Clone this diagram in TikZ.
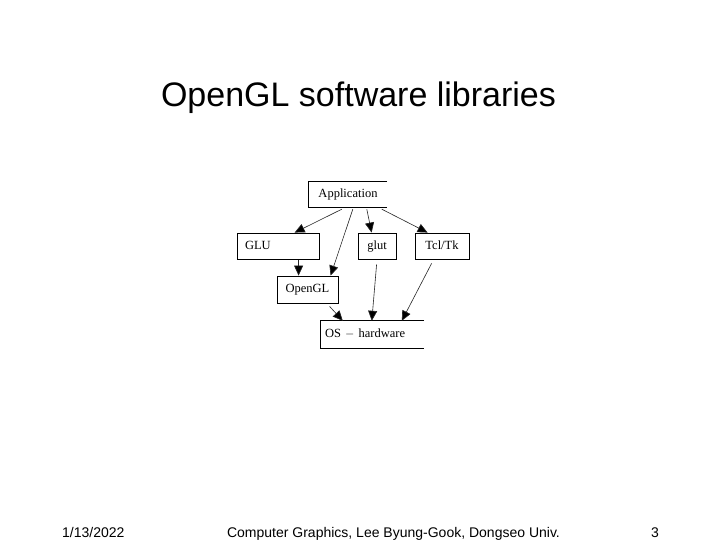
\documentclass[tikz,border=0pt]{standalone}
\usepackage{fontspec}
\setmainfont{Liberation Serif}
\newfontfamily\arialfont{Liberation Sans}
\usetikzlibrary{arrows.meta}
\begin{document}
\begin{tikzpicture}[x=1pt,y=-1pt,
  dfont/.style={font=\fontsize{12.5}{14}\selectfont,text height=9pt,text depth=2.5pt},
  box/.style={draw=black,line width=0.8pt,inner sep=0pt,dfont},
  openbox/.style={draw=none,inner sep=0pt,dfont},
  conn/.style={line width=0.6pt,draw=black!85,-{Triangle[length=10pt,width=9pt,fill=black]}},
  edge/.style={line width=0.8pt}]
\useasboundingbox[fill=white] (0,0) rectangle (720,540);
% title and footer
\node[anchor=base,font=\arialfont\fontsize{34}{40}\selectfont] (title) at (358.5,107) {OpenGL software libraries};
\node[anchor=base west,inner sep=0pt,font=\arialfont\fontsize{14}{16}\selectfont] (date) at (62,537) {1/13/2022};
\node[anchor=base,inner sep=0pt,font=\arialfont\fontsize{14}{16}\selectfont] (footer) at (393.5,537) {Computer Graphics, Lee Byung-Gook, Dongseo Univ.};
\node[anchor=base,inner sep=0pt,font=\arialfont\fontsize{14}{16}\selectfont] (page) at (655,537) {3};
% boxes
\node[openbox,minimum width=78pt,minimum height=25pt] (app) at (348,194.5) {Application};
\draw[edge] (app.north east) -- (app.north west) -- (app.south west) -- (app.south east);
\node[box,minimum width=82pt,minimum height=26pt,text width=66pt,align=left] (glu) at (278,246) {GLU};
\node[box,minimum width=38pt,minimum height=26pt] (glut) at (377,246) {glut};
\node[box,minimum width=54pt,minimum height=26pt] (tcl) at (442,246) {Tcl/Tk};
\node[box,minimum width=61pt,minimum height=27pt] (ogl) at (307.5,289.5) {OpenGL};
\node[openbox,minimum width=103pt,minimum height=27pt,text width=95pt,align=left] (os) at (372.5,334.5) {OS $-$ hardware};
\draw[edge] (os.north east) -- (os.north west) -- (os.south west) -- (os.south east);
% connectors
\draw[conn] ([xshift=33pt,yshift=-2pt]app.south west) -- ([xshift=58pt]glu.north west);
\draw[conn] ([xshift=44pt,yshift=-2pt]app.south west) -- ([xshift=54pt]ogl.north west);
\draw[conn] ([xshift=58pt,yshift=-2pt]app.south west) -- ([xshift=14pt]glut.north west);
\draw[conn] ([xshift=73pt,yshift=-2pt]app.south west) -- ([xshift=13pt]tcl.north west);
\draw[conn] ([xshift=62pt,yshift=-1pt]glu.south west) -- ([xshift=22pt]ogl.north west);
\draw[conn] ([xshift=53pt,yshift=-3pt]ogl.south west) -- ([xshift=22pt]os.north west);
\draw[conn] ([xshift=19pt,yshift=-5pt]glut.south west) -- ([xshift=51pt]os.north west);
\draw[conn] ([xshift=17pt,yshift=-4pt]tcl.south west) -- ([xshift=81pt]os.north west);
\end{tikzpicture}
\end{document}
